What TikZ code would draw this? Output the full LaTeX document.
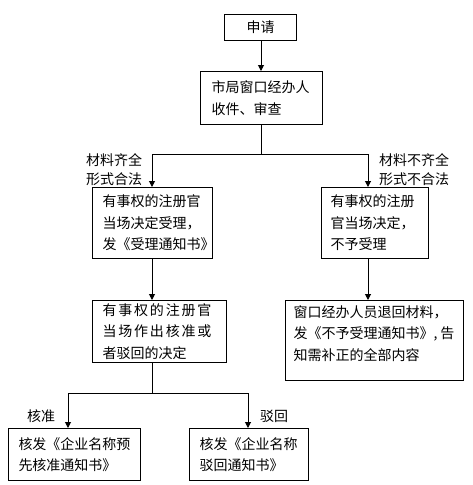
\documentclass[tikz,border=0pt]{standalone}
\usepackage{fontspec}
\setmainfont{Noto Sans CJK SC}
\usetikzlibrary{arrows.meta}
\begin{document}
\begin{tikzpicture}[x=1pt,y=-1pt,
  box/.style={draw, line width=1pt, anchor=north west, align=left, inner ysep=0pt,
              font=\fontsize{14pt}{21.5pt}\selectfont},
  lbl/.style={align=left, inner sep=0pt, anchor=west, font=\fontsize{14pt}{19pt}\selectfont},
  arr/.style={-{Triangle[length=6pt,width=6pt]}, line width=1pt},
  ln/.style={line width=1pt}]
\fill[white] (0,0) rectangle (473,485);
\useasboundingbox (0,0) rectangle (473,485);

\node[box, align=center, minimum width=72pt, minimum height=26pt, inner xsep=0pt] (b1) at (224,14) {申请};
\node[box, minimum width=122pt, minimum height=53pt, text width=100pt, inner xsep=11pt] (b2) at (200,71)
  {市局窗口经办人\\收件、审查};
\node[box, minimum width=120pt, minimum height=71pt, text width=100pt, inner xsep=10pt] (b3) at (92,187)
  {有事权的注册官\\当场决定受理，\\发《受理通知书》};
\node[box, minimum width=107pt, minimum height=71pt, text width=89pt, inner xsep=9pt] (b4) at (321,187)
  {有事权的注册\\官当场决定，\\不予受理};
\node[box, minimum width=134pt, minimum height=62pt, text width=114pt, inner xsep=10pt] (b5) at (92,300)
  {{\addfontfeature{LetterSpace=13}有事权的注册官}\\{\addfontfeature{LetterSpace=13}当场作出核准或}\\者驳回的决定};
\node[box, minimum width=178pt, minimum height=80pt, text width=162pt, inner xsep=8pt] (b6) at (285,300)
  {\mbox{窗口经办人员退回材料，}\\\mbox{发《不予受理通知书》,\hspace{3pt}告}\\\mbox{知需补正的全部内容}\\[-6pt]\mbox{}};
\node[box, minimum width=132pt, minimum height=52pt, text width=112pt, inner xsep=10pt] (b7) at (8,428)
  {核发《企业名称预\\先核准通知书》};
\node[box, minimum width=119pt, minimum height=52pt, text width=99pt, inner xsep=10pt] (b8) at (189,428)
  {核发《企业名称\\驳回通知书》};

\node[lbl] (l1) at (86,170) {材料齐全\\形式合法};
\node[lbl] (l2) at (379,170) {材料不齐全\\形式不合法};
\node[lbl] (l3) at (27,416) {核准};
\node[lbl] (l4) at (260,416) {驳回};

\coordinate (L1) at (152,154);
\coordinate (R1) at (368,154);
\coordinate (L2) at (68,393);
\coordinate (R2) at (248,393);
\coordinate (M1) at (261,154);
\coordinate (M2) at (152,393);

\draw[arr] (b1.south -| M1) -- (b2.north -| M1);
\draw[ln] (b2.south -| M1) -- (M1);
\draw[ln] (L1) -- (R1);
\draw[arr] (L1) -- (L1 |- b3.north);
\draw[arr] (R1) -- (R1 |- b4.north);
\draw[arr] (L1 |- b3.south) -- (L1 |- b5.north);
\draw[arr] (R1 |- b4.south) -- (R1 |- b6.north);
\draw[ln] (M2 |- b5.south) -- (M2);
\draw[ln] (L2) -- (R2);
\draw[arr] (L2) -- (L2 |- b7.north);
\draw[arr] (R2) -- (R2 |- b8.north);
\end{tikzpicture}
\end{document}
